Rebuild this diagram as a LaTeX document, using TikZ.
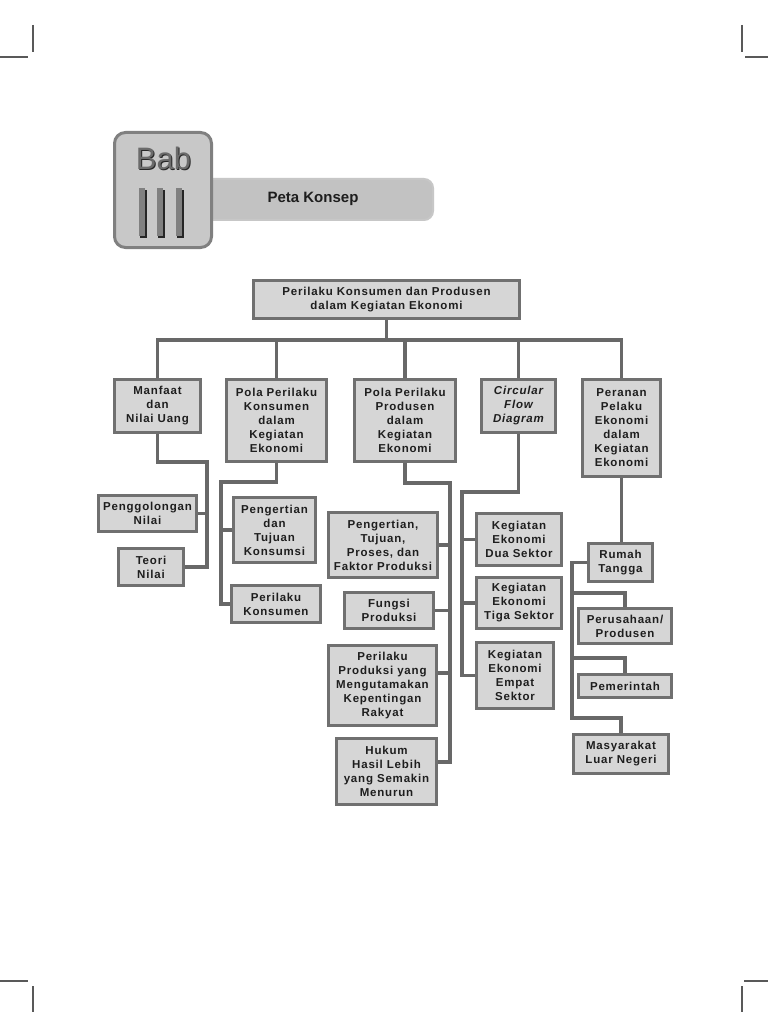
\documentclass[tikz,border=0pt]{standalone}
\usepackage{fontspec}
\setmainfont{Liberation Sans}
\newfontfamily\boxfont[LetterSpace=7]{Liberation Sans}
\usepackage{xcolor}
\definecolor{boxfill}{HTML}{D6D6D6}
\definecolor{boxline}{HTML}{707070}
\definecolor{linkgray}{HTML}{686868}
\definecolor{inkgray}{HTML}{1E1E1E}
\definecolor{babfill}{HTML}{C8C8C8}
\definecolor{bannerfill}{HTML}{C2C2C2}
\tikzset{box/.style n args={2}{
    draw=boxline, line width=3.3pt, fill=boxfill, inner sep=0pt, align=center, text=inkgray,
    minimum width=#1, minimum height=#2,
    font=\boxfont\bfseries\fontsize{11.5}{14}\selectfont},
  link/.style={draw=linkgray, line width=3.3pt},
  crop/.style={draw=black!65, line width=1.2pt}}

\begin{document}
\begin{tikzpicture}[x=1pt,y=-1pt]
		\useasboundingbox[fill=white] (0,0) rectangle (768,1024);
		\draw[crop] (33,25) -- (33,52) (0,57) -- (28,57);
		\draw[crop] (742,25) -- (742,52) (745,57) -- (768,57);
		\draw[crop] (0,981) -- (28,981) (33,986) -- (33,1012);
		\draw[crop] (744,981) -- (768,981) (742,986) -- (742,1012);
		\draw[draw=black!22, line width=2pt, fill=bannerfill, rounded corners=9pt] (200,179) rectangle (433,220);
		\node[text=inkgray, font=\bfseries\fontsize{15}{15}\selectfont] (peta) at (313,199) {Peta Konsep};
		\draw[draw=black!50, line width=3pt, fill=babfill, rounded corners=11pt] (114.5,132.5) rectangle (211.5,247.5);
		\node[text=black!85, font=\fontsize{31}{31}\selectfont] at (164.5,159.5) {Bab};
		\node[text=black!58, font=\fontsize{31}{31}\selectfont] (bab) at (163.5,158.5) {Bab};
		\foreach \x in {139,157,176} {
			\fill[black!85] (\x+1,190) rectangle (\x+8,238);
			\fill[black!50] (\x,188) rectangle (\x+6,236);
		}
		\node[box={265.5pt}{37.5pt}] (top) at (386.5,299.5) {Perilaku Konsumen dan Produsen\\dalam Kegiatan Ekonomi};
		\node[box={85.5pt}{52.5pt}] (manfaat) at (157.5,406) {Manfaat\\dan\\Nilai Uang};
		\node[box={99.5pt}{81.5pt}] (polak) at (276.5,420.5) {Pola Perilaku\\Konsumen\\dalam\\Kegiatan\\Ekonomi};
		\node[box={100.5pt}{81.5pt}] (polap) at (405,420.5) {Pola Perilaku\\Produsen\\dalam\\Kegiatan\\Ekonomi};
		\node[box={73.5pt}{52.5pt}] (circ) at (518.5,406) {\itshape Circular\\\itshape Flow\\\itshape Diagram};
		\node[box={77.5pt}{96.5pt}] (peran) at (621.5,428) {Peranan\\Pelaku\\Ekonomi\\dalam\\Kegiatan\\Ekonomi};
		\node[box={97.5pt}{35.5pt}] (golong) at (147.5,513.5) {Penggolongan\\Nilai};
		\node[box={64.5pt}{36.5pt}] (teori) at (151,567) {Teori\\Nilai};
		\node[box={81.5pt}{64.5pt}] (ptk) at (274.5,530) {Pengertian\\dan\\Tujuan\\Konsumsi};
		\node[box={88.5pt}{36.5pt}] (pkons) at (276,604) {Perilaku\\Konsumen};
		\node[box={108.5pt}{64.5pt}] (pengprod) at (383,545) {Pengertian,\\Tujuan,\\Proses, dan\\Faktor Produksi};
		\node[box={88.5pt}{35.5pt}] (fungsi) at (389,610.5) {Fungsi\\Produksi};
		\node[box={107.5pt}{79.5pt}] (pprod) at (382.5,685.5) {Perilaku\\Produksi yang\\Mengutamakan\\Kepentingan\\Rakyat};
		\node[box={99.5pt}{65.5pt}] (hukum) at (386.5,771.5) {Hukum\\Hasil Lebih\\yang Semakin\\Menurun};
		\node[box={84.5pt}{51.5pt}] (dua) at (519,539.5) {Kegiatan\\Ekonomi\\Dua Sektor};
		\node[box={84.5pt}{50.5pt}] (tiga) at (519,603) {Kegiatan\\Ekonomi\\Tiga Sektor};
		\node[box={76.5pt}{65.5pt}] (empat) at (515,675.5) {Kegiatan\\Ekonomi\\Empat\\Sektor};
		\node[box={63.5pt}{37.5pt}] (rumah) at (620.5,562.5) {Rumah\\Tangga};
		\node[box={92.5pt}{34.5pt}] (perus) at (625,626) {Perusahaan/\\Produsen};
		\node[box={92.5pt}{22.5pt}] (pemer) at (625,686) {Pemerintah};
		\node[box={94.5pt}{38.5pt}] (masy) at (621,754) {Masyarakat\\Luar Negeri};
		\coordinate (bus) at (386.5,340);
		\draw[link] (top.south) -- (bus);
		\draw[link] (manfaat.north) |- (bus) -| (peran.north);
		\foreach \n in {polak,polap,circ}
			\draw[link] (\n.north) -- (\n.north |- bus);
		\coordinate (mspine) at (207,462);
		\draw[link] (manfaat.south) |- (mspine) |- (teori.east);
		\draw[link] (golong.east) -- (golong.east -| mspine);
		\coordinate (kspine) at (221,482);
		\draw[link] (polak.south) |- (kspine) |- (pkons.west);
		\draw[link] (ptk.west) -- (ptk.west -| kspine);
		\coordinate (pspine) at (450,483);
		\draw[link] (polap.south) |- (pspine) |- (hukum.east |- 0,762);
		\draw[link] (pengprod.east) -- (pengprod.east -| pspine);
		\draw[link] (fungsi.east) -- (fungsi.east -| pspine);
		\draw[link] (pprod.east |- 0,673) -- (pspine |- 0,673);
		\coordinate (cspine) at (462,492);
		\draw[link] (circ.south) |- (cspine) |- (empat.west);
		\draw[link] (dua.west) -- (dua.west -| cspine);
		\draw[link] (tiga.west) -- (tiga.west -| cspine);
		\draw[link] (peran.south) -- (peran.south |- rumah.north);
		\coordinate (rspine) at (572,718);
		\draw[link] (rumah.west) -| (rspine) -| (masy.north);
		\draw[link] (rspine |- 0,593) -| (perus.north);
		\draw[link] (rspine |- 0,658) -| (pemer.north);
	\end{tikzpicture}
\end{document}
